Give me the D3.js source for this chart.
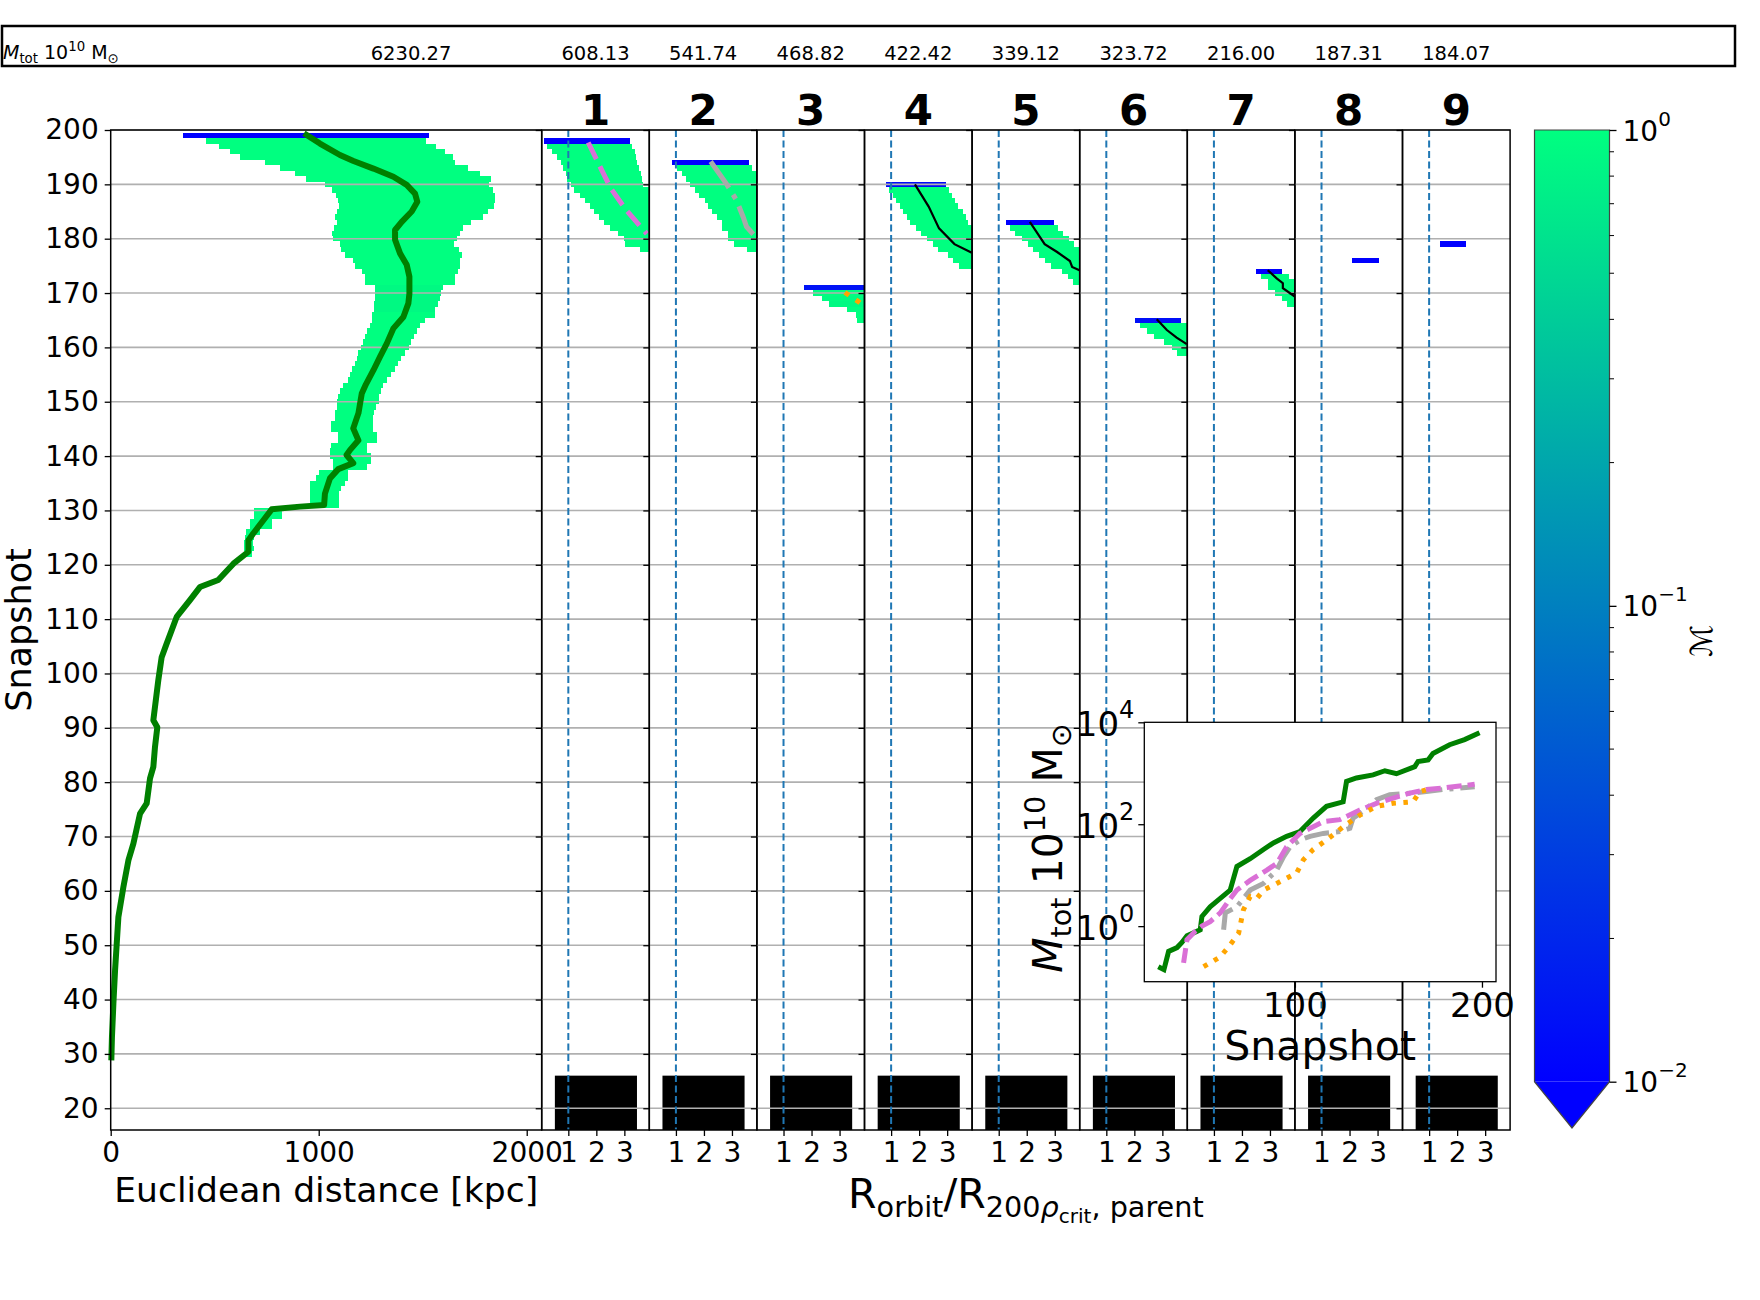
<!DOCTYPE html>
<html>
<head>
<meta charset="utf-8">
<script src="https://cdn.jsdelivr.net/npm/d3@7"></script>
<style>
  body { margin: 0; background: #fff; }
  text { font-family: "DejaVu Sans", sans-serif; }
</style>
</head>
<body>
<div id="chart"></div>
<script>
const width = 1760;
const height = 1300;

// ---- values ----
const snapTicks = d3.range(20, 201, 10);
const distTicks = [0, 1000, 2000];
const radiusTicks = [1, 2, 3];
const insetSnapTicks = [100, 200];
const insetMassTicks = [1, 100, 10000];
const cbMajor = [1, 0.1, 0.01];
const cbMinor = [0.02, 0.03, 0.04, 0.05, 0.06, 0.07, 0.08, 0.09, 0.2, 0.3, 0.4, 0.5, 0.6, 0.7, 0.8, 0.9];
const panelNames = ["1", "2", "3", "4", "5", "6", "7", "8", "9"];
const headerMass = ["6230.27", "608.13", "541.74", "468.82", "422.42", "339.12", "323.72", "216.00", "187.31", "184.07"];

// [snapshot, lo kpc, hi kpc, M]
const mainBand = [
  [199, 347, 1530, 0.01], [198, 458, 1514, 1], [197, 521, 1562, 1], [196, 574, 1607, 1],
  [195, 622, 1646, 1], [194, 742, 1655, 1], [193, 814, 1716, 1], [192, 886, 1776, 1],
  [191, 939, 1827, 1], [190, 1030, 1819, 1], [189, 1064, 1836, 1], [188, 1083, 1849, 1],
  [187, 1093, 1849, 1], [186, 1096, 1843, 1], [185, 1090, 1816, 1], [184, 1078, 1788, 1],
  [183, 1086, 1731, 1], [182, 1074, 1692, 1], [181, 1066, 1678, 1], [180, 1069, 1663, 1],
  [179, 1102, 1649, 1], [178, 1106, 1673, 1], [177, 1126, 1687, 1], [176, 1166, 1679, 1],
  [175, 1176, 1678, 1], [174, 1208, 1670, 1], [173, 1223, 1655, 1], [172, 1223, 1654, 1],
  [171, 1272, 1596, 0.9], [170, 1272, 1590, 0.9], [169, 1271, 1583, 0.9], [168, 1266, 1574, 0.9],
  [167, 1266, 1557, 0.9], [166, 1256, 1557, 1], [165, 1256, 1511, 1], [164, 1247, 1487, 1],
  [163, 1234, 1471, 1], [162, 1223, 1457, 1], [161, 1211, 1442, 1], [160, 1203, 1434, 1],
  [159, 1191, 1415, 1], [158, 1183, 1396, 1], [157, 1176, 1381, 1], [156, 1162, 1367, 1],
  [155, 1150, 1346, 1], [154, 1142, 1327, 1], [153, 1118, 1308, 1], [152, 1102, 1298, 1],
  [151, 1094, 1292, 1], [150, 1090, 1288, 1], [149, 1090, 1275, 1], [148, 1078, 1266, 1],
  [147, 1078, 1259, 1], [146, 1059, 1259, 1], [145, 1059, 1259, 1], [144, 1094, 1282, 1],
  [143, 1094, 1282, 1], [142, 1058, 1231, 1], [141, 1054, 1231, 1], [140, 1054, 1250, 1],
  [139, 1070, 1250, 1], [138, 1070, 1231, 1], [137, 1001, 1142, 1], [136, 987, 1142, 1],
  [135, 958, 1126, 1], [134, 958, 1106, 1], [133, 958, 1098, 1], [132, 958, 1098, 1],
  [131, 958, 1098, 1], [130, 691, 822, 1], [129, 691, 822, 1], [128, 670, 774, 1],
  [127, 670, 774, 1], [126, 651, 718, 1], [125, 647, 689, 1], [124, 643, 686, 1],
  [123, 643, 689, 1], [122, 647, 678, 1]
];

// [kpc, snapshot]
const mainTrack = [
  [929, 199.4], [1006, 197.5], [1102, 195.4], [1167, 194.3], [1263, 192.9], [1359, 191.4],
  [1423, 189.9], [1463, 188.3], [1474, 186.8], [1447, 185], [1399, 183.1], [1367, 181.6],
  [1367, 179.8], [1391, 177.3], [1423, 175.2], [1436, 173], [1436, 169.9], [1431, 168.1],
  [1407, 165.6], [1359, 163.5], [1327, 160.7], [1295, 158.3], [1263, 155.8], [1227, 153.2],
  [1207, 151.5], [1191, 147.9], [1166, 145.1], [1191, 142.9], [1150, 141.1], [1134, 140.2],
  [1166, 138.7], [1094, 137.6], [1054, 135.9], [1030, 133.1], [1026, 131], [910, 130.7],
  [774, 130.2], [734, 128.2], [686, 125.8], [662, 124.5], [662, 122.4], [590, 120.2],
  [517, 117.2], [429, 115.9], [381, 113.5], [317, 110.4], [269, 105.5], [245, 103],
  [229, 98.8], [205, 91.4], [224, 90.1], [213, 86.5], [205, 82.8], [189, 80.7],
  [173, 76.1], [141, 74.2], [109, 68.7], [85, 65.6], [61, 60.7], [37, 55.2],
  [29, 50.3], [21, 45.4], [13, 39.3], [6, 33.1], [3, 28.8]
];

// per subhalo: [snapshot, lo R/R200, hi R/R200, M]
const band1 = [[198, 0.14, 3.21, 0.01], [197, 0.24, 3.29, 1], [196, 0.42, 3.37, 1], [195, 0.60, 3.41, 1],
  [194, 0.75, 3.46, 1], [193, 0.82, 3.52, 1], [192, 0.91, 3.58, 1], [191, 0.97, 3.64, 1],
  [190, 1.10, 3.68, 1], [189, 1.22, 4.5, 1], [188, 1.40, 4.5, 1], [187, 1.61, 4.5, 1],
  [186, 1.77, 4.5, 1], [185, 1.93, 4.5, 1], [184, 2.10, 4.5, 1], [183, 2.26, 4.5, 1],
  [182, 2.49, 4.5, 1], [181, 2.76, 4.5, 1], [180, 3.00, 4.5, 1], [179, 3.04, 4.5, 1], [178, 3.56, 4.5, 1]];
const band2 = [[194, 0.86, 3.61, 0.01], [193, 1.03, 3.71, 1], [192, 1.21, 4.5, 1], [191, 1.37, 4.5, 1],
  [190, 1.52, 4.5, 1], [189, 1.68, 4.5, 1], [188, 1.83, 4.5, 1], [187, 2.02, 4.5, 1],
  [186, 2.14, 4.5, 1], [185, 2.30, 4.5, 1], [184, 2.48, 4.5, 1], [183, 2.64, 4.5, 1],
  [182, 2.66, 4.5, 1], [181, 2.85, 4.5, 1], [180, 2.87, 4.5, 1], [179, 3.07, 4.5, 1], [178, 3.52, 4.5, 1]];
const band3 = [[171, 1.74, 4.5, 0.014], [170, 2.06, 4.5, 1], [169, 2.39, 4.5, 0.95], [168, 2.64, 4.5, 0.9],
  [167, 3.25, 4.5, 1], [166, 3.58, 4.5, 1], [165, 3.62, 4.5, 1]];
const band4 = [[190, 0.82, 2.95, 0.012], [189, 0.94, 3.07, 1], [188, 1.06, 3.19, 1], [187, 1.18, 3.28, 1],
  [186, 1.30, 3.40, 1], [185, 1.42, 3.56, 1], [184, 1.55, 3.68, 1], [183, 1.67, 3.74, 1],
  [182, 1.88, 4.5, 1], [181, 2.07, 4.5, 1], [180, 2.28, 4.5, 1], [179, 2.50, 4.5, 1],
  [178, 2.69, 4.5, 1], [177, 3.02, 4.5, 1], [176, 3.20, 4.5, 1], [175, 3.42, 4.5, 1]];
const band5 = [[183, 1.26, 2.98, 0.01], [182, 1.41, 3.13, 1], [181, 1.59, 3.31, 1], [180, 1.84, 3.50, 1],
  [179, 2.03, 3.68, 1], [178, 2.21, 4.5, 1], [177, 2.42, 4.5, 1], [176, 2.64, 4.5, 1],
  [175, 2.88, 4.5, 1], [174, 3.25, 4.5, 1], [173, 3.48, 4.5, 1], [172, 3.66, 4.5, 1]];
const band6 = [[165, 2.02, 3.66, 0.013], [164, 2.20, 4.5, 1], [163, 2.46, 4.5, 1], [162, 2.71, 4.5, 1],
  [161, 3.06, 4.5, 1], [160, 3.34, 4.5, 1], [159, 3.54, 4.5, 1]];
const band7 = [[174, 2.50, 3.42, 0.01], [173, 2.68, 3.68, 1], [172, 2.94, 4.5, 1], [171, 2.94, 4.5, 1],
  [170, 3.18, 4.5, 1], [169, 3.42, 4.5, 1], [168, 3.62, 4.5, 1]];
const band8 = [[176, 2.09, 3.05, 0.01]];
const band9 = [[179, 1.39, 2.32, 0.01]];
const panelBands = [band1, band2, band3, band4, band5, band6, band7, band8, band9];

// [R/R200, snapshot]
const track1 = [[1.71, 197.7], [2.51, 189.3], [3.06, 185.3], [3.8, 180.9]];
const track2 = [[2.24, 194.2], [2.79, 190.2], [3.16, 187.1], [3.4, 184], [3.52, 182.2], [3.83, 180.4]];
const track3 = [[3.19, 170.1], [3.62, 168.6], [3.9, 167.6]];
const track4 = [[1.85, 190], [2.34, 185.9], [2.71, 181.9], [3.26, 179], [3.88, 177.4]];
const track5 = [[2.11, 183.1], [2.64, 179], [3.07, 177.6], [3.54, 175.9], [3.62, 174.8], [3.88, 174.2]];
const track6 = [[2.8, 165.2], [3.16, 163.2], [3.51, 161.8], [3.87, 160.6]];
const track7 = [[2.92, 174.2], [3.24, 172.7], [3.46, 171.8], [3.46, 170.9], [3.9, 169.3]];
const panelTracks = [track1, track2, track3, track4, track5, track6, track7, [], []];

// black block at the bottom of every panel: R/R200 span and snapshot span
const blockSpan = [0.52, 3.45];
const blockSnaps = [16, 26];

// inset: [snapshot, M_tot 1e10 Msun]
const massHost = [[27, 0.16], [30, 0.14], [32.5, 0.32], [37, 0.38], [39.6, 0.48], [42.3, 0.65],
  [47.6, 0.79], [49.4, 0.85], [50.3, 1.55], [54.7, 2.4], [60.1, 3.5], [65.4, 5.1], [69, 14.8],
  [76.1, 21], [83.2, 32], [88.5, 43], [95.6, 58], [102.7, 72], [109.8, 132], [116.9, 224],
  [125.8, 275], [127.6, 690], [132.9, 810], [141.8, 930], [148.1, 1120], [154.3, 980],
  [164.1, 1350], [165.8, 1700], [171.2, 1820], [173.8, 2450], [182.7, 3630], [190.7, 4570], [198.7, 6230]];
const massSub1 = [[40.5, 0.19], [42.3, 0.54], [46.7, 0.79], [50.3, 1.0], [54.7, 1.23], [60.1, 1.82],
  [64.5, 3.1], [69, 5.1], [76.1, 7.9], [85, 12.6], [90.3, 17], [95.6, 36], [102.7, 66], [109.8, 89],
  [115.2, 112], [124, 123], [134.7, 190], [143.6, 257], [152.5, 324], [161.4, 407], [170.3, 479],
  [179.2, 513], [196.1, 608]];
const massSub2 = [[61.9, 0.85], [62.8, 1.82], [69, 2.4], [76.1, 5.1], [83.2, 6.9], [90.3, 12.6],
  [93.9, 23], [97.4, 36], [102.7, 49], [108.1, 58], [115.2, 66], [124, 72], [129.4, 83], [131.1, 132],
  [137.4, 190], [143.6, 302], [150.7, 380], [161.4, 407], [170.3, 437], [179.2, 479], [196.1, 541]];
const massSub3 = [[51.2, 0.16], [60.1, 0.25], [65.4, 0.43], [69.9, 0.72], [72.5, 2.1], [76.1, 3.8],
  [79.7, 3.5], [83.2, 5.1], [90.3, 6.9], [100.9, 11], [104.5, 20], [109.8, 32], [116.9, 49],
  [120.5, 62], [125.8, 89], [134.7, 151], [143.6, 224], [152.5, 257], [163.2, 275], [166.8, 437], [170, 469]];

// ---- layout ----
const plotTop = 130, plotBottom = 1130;
const mainLeft = 110.7, mainRight = 541.7;
const panelWidth = 107.6;
const panelLeft = i => mainRight + i * panelWidth;
const gridColor = "#b0b0b0";
const tickFont = 28;
const intFmt = d3.format("d");

const svg = d3.select("#chart").append("svg")
    .attr("width", width)
    .attr("height", height);

const winter = t => d3.rgb(0, 255 * t, 255 * (1 - 0.5 * t)).toString();
const colorOf = v => winter(Math.max(0, Math.min(1, (Math.log10(v) + 2) / 2)));

const y = d3.scaleLinear().domain([16, 200]).range([plotBottom, plotTop]);
const xDist = d3.scaleLinear().domain([0, 2072]).range([mainLeft, mainRight]);

function styleAxis(g, size) {
    g.select(".domain").remove();
    g.selectAll(".tick line").attr("stroke", "#000").attr("stroke-width", 1.3);
    g.selectAll(".tick text")
        .attr("font-size", size)
        .attr("font-family", "DejaVu Sans")
        .attr("fill", "#000");
}

// rich text with sub / superscripts; parts: [text, offset(em), scale, italic]
function rich(textSel, parts, fs) {
    let cur = 0;
    parts.forEach(([t, off, sc, it]) => {
        const target = off * fs;
        textSel.append("tspan")
            .attr("dy", (target - cur).toFixed(2))
            .attr("font-size", fs * (sc || 1))
            .attr("font-style", it ? "italic" : null)
            .text(t);
        cur = target;
    });
}

function drawCells(g, rows, x) {
    g.selectAll("rect.cell")
        .data(rows)
        .join("rect")
        .attr("class", "cell")
        .attr("x", d => x(d[1]))
        .attr("width", d => x(d[2]) - x(d[1]))
        .attr("y", d => y(d[0] + 0.5))
        .attr("height", d => y(d[0] - 0.5) - y(d[0] + 0.5))
        .attr("fill", d => colorOf(d[3]))
        .attr("shape-rendering", "crispEdges");
}

function drawGrid(g, x0, x1) {
    g.append("g").selectAll("line")
        .data(snapTicks)
        .join("line")
        .attr("x1", x0).attr("x2", x1)
        .attr("y1", d => y(d)).attr("y2", d => y(d))
        .attr("stroke", gridColor)
        .attr("stroke-width", 1.6);
}

// ---- main panel ----
const defs = svg.append("defs");
defs.append("clipPath").attr("id", "clip-main").append("rect")
    .attr("x", mainLeft).attr("y", plotTop)
    .attr("width", mainRight - mainLeft).attr("height", plotBottom - plotTop);

const main = svg.append("g");
drawCells(main.append("g").attr("clip-path", "url(#clip-main)"), mainBand, xDist);
drawGrid(main, mainLeft, mainRight);

main.append("path")
    .datum(mainTrack)
    .attr("d", d3.line().x(d => xDist(d[0])).y(d => y(d[1])))
    .attr("fill", "none")
    .attr("stroke", "#008000")
    .attr("stroke-width", 6)
    .attr("stroke-linejoin", "round");

main.append("rect")
    .attr("x", mainLeft).attr("y", plotTop)
    .attr("width", mainRight - mainLeft).attr("height", plotBottom - plotTop)
    .attr("fill", "none").attr("stroke", "#000").attr("stroke-width", 1.5);

main.append("g")
    .attr("transform", `translate(${mainLeft},0)`)
    .call(d3.axisLeft(y).tickValues(snapTicks).tickFormat(intFmt).tickSize(6).tickPadding(6))
    .call(g => styleAxis(g, tickFont));

main.append("g")
    .attr("transform", `translate(0,${plotBottom})`)
    .call(d3.axisBottom(xDist).tickValues(distTicks).tickFormat(intFmt).tickSize(6).tickPadding(6))
    .call(g => styleAxis(g, tickFont));

// ---- subhalo panels ----
const trackStyles = [
    { color: "orchid", w: 5, dash: "18.5,8" },
    { color: "darkgray", w: 5, dash: "32,8,5,8" },
    { color: "orange", w: 5, dash: "5,8.25" },
    { color: "#000", w: 2.2, dash: null },
    { color: "#000", w: 2.2, dash: null },
    { color: "#000", w: 2.2, dash: null },
    { color: "#000", w: 2.2, dash: null },
    null, null
];

panelNames.forEach((name, i) => {
    const left = panelLeft(i);
    const x = d3.scaleLinear().domain([0.05, 3.89]).range([left, left + panelWidth]);
    const id = "clip-p" + i;
    defs.append("clipPath").attr("id", id).append("rect")
        .attr("x", left).attr("y", plotTop)
        .attr("width", panelWidth).attr("height", plotBottom - plotTop);

    const g = svg.append("g");
    const body = g.append("g").attr("clip-path", `url(#${id})`);
    drawCells(body, panelBands[i], x);

    body.append("rect")
        .attr("x", x(blockSpan[0]))
        .attr("width", x(blockSpan[1]) - x(blockSpan[0]))
        .attr("y", y(blockSnaps[1]))
        .attr("height", y(blockSnaps[0]) - y(blockSnaps[1]))
        .attr("fill", "#000");

    drawGrid(g, left, left + panelWidth);

    g.append("line")
        .attr("x1", x(1)).attr("x2", x(1))
        .attr("y1", plotTop).attr("y2", plotBottom)
        .attr("stroke", "#1f77b4")
        .attr("stroke-width", 2)
        .attr("stroke-dasharray", "7,3.5");

    const st = trackStyles[i];
    if (st && panelTracks[i].length) {
        g.append("g").attr("clip-path", `url(#${id})`)
            .append("path")
            .datum(panelTracks[i])
            .attr("d", d3.line().x(d => x(d[0])).y(d => y(d[1])))
            .attr("fill", "none")
            .attr("stroke", st.color)
            .attr("stroke-width", st.w)
            .attr("stroke-dasharray", st.dash);
    }

    g.append("rect")
        .attr("x", left).attr("y", plotTop)
        .attr("width", panelWidth).attr("height", plotBottom - plotTop)
        .attr("fill", "none").attr("stroke", "#000").attr("stroke-width", 1.5);

    g.append("g")
        .attr("transform", `translate(${left},0)`)
        .call(d3.axisLeft(y).tickValues(snapTicks).tickSize(6).tickFormat(""))
        .call(gg => styleAxis(gg, tickFont));

    g.append("g")
        .attr("transform", `translate(0,${plotBottom})`)
        .call(d3.axisBottom(x).tickValues(radiusTicks).tickFormat(intFmt).tickSize(6).tickPadding(6))
        .call(gg => styleAxis(gg, tickFont));

    g.append("text")
        .attr("x", left + panelWidth / 2)
        .attr("y", 125)
        .attr("text-anchor", "middle")
        .attr("font-size", 42)
        .attr("font-weight", "bold")
        .text(name);
});

// ---- axis titles ----
svg.append("text")
    .attr("transform", `translate(31,${(plotTop + plotBottom) / 2}) rotate(-90)`)
    .attr("text-anchor", "middle")
    .attr("font-size", 35)
    .text("Snapshot");

svg.append("text")
    .attr("x", (mainLeft + mainRight) / 2)
    .attr("y", 1202)
    .attr("text-anchor", "middle")
    .attr("font-size", 34.5)
    .text("Euclidean distance [kpc]");

rich(svg.append("text")
    .attr("x", (panelLeft(0) + panelLeft(9)) / 2)
    .attr("y", 1208)
    .attr("text-anchor", "middle"),
    [["R", 0], ["orbit", 0.22, 0.7], ["/R", 0], ["200", 0.22, 0.7], ["ρ", 0.22, 0.7, true],
     ["crit", 0.37, 0.49], [", parent", 0.22, 0.7]], 41);

// ---- inset: mass history ----
const inL = 1144.3, inR = 1496, inT = 722.3, inB = 981.7;
const insetX = d3.scaleLinear().domain([19.5, 207.5]).range([inL, inR]);
const insetY = d3.scaleLog().domain([Math.pow(10, -1.09), 10000]).range([inB, inT]);

const inset = svg.append("g");
inset.append("rect")
    .attr("x", inL).attr("y", inT)
    .attr("width", inR - inL).attr("height", inB - inT)
    .attr("fill", "#fff");

const massLine = d3.line().x(d => insetX(d[0])).y(d => insetY(d[1]));
[
    { data: massHost, color: "#008000", dash: null },
    { data: massSub2, color: "darkgray", dash: "25,7,4,7" },
    { data: massSub1, color: "orchid", dash: "15,6" },
    { data: massSub3, color: "orange", dash: "4.5,7.5" }
].forEach(s => {
    inset.append("path")
        .datum(s.data)
        .attr("d", massLine)
        .attr("fill", "none")
        .attr("stroke", s.color)
        .attr("stroke-width", 5)
        .attr("stroke-dasharray", s.dash);
});

inset.append("rect")
    .attr("x", inL).attr("y", inT)
    .attr("width", inR - inL).attr("height", inB - inT)
    .attr("fill", "none").attr("stroke", "#000").attr("stroke-width", 1.3);

inset.append("g")
    .attr("transform", `translate(0,${inB})`)
    .call(d3.axisBottom(insetX).tickValues(insetSnapTicks).tickFormat(intFmt).tickSize(6).tickPadding(5))
    .call(g => styleAxis(g, 34));

inset.append("g")
    .attr("transform", `translate(${inL},0)`)
    .call(d3.axisLeft(insetY).tickValues(insetMassTicks).tickSize(6).tickPadding(4))
    .call(g => styleAxis(g, 34))
    .call(g => g.selectAll(".tick text").each(function (d) {
        const t = d3.select(this).attr("dy", "0.4em").text(null);
        t.append("tspan").text("10");
        t.append("tspan").attr("dy", "-0.75em").attr("font-size", 24).text(Math.round(Math.log10(d)));
    }));

inset.append("text")
    .attr("x", (inL + inR) / 2)
    .attr("y", 1060)
    .attr("text-anchor", "middle")
    .attr("font-size", 41)
    .text("Snapshot");

rich(inset.append("text")
    .attr("transform", `translate(1062,848) rotate(-90)`)
    .attr("text-anchor", "middle"),
    [["M", 0, 1, true], ["tot", 0.22, 0.7], [" 10", 0], ["10", -0.42, 0.7], [" M", 0], ["⊙", 0.22, 0.7]], 41);

// ---- colour bar ----
const cbL = 1534.5, cbR = 1609.5, cbT = 130, cbB = 1081.7, cbTip = 1128;
const cbScale = d3.scaleLog().domain([0.01, 1]).range([cbB, cbT]);

const grad = defs.append("linearGradient")
    .attr("id", "winter")
    .attr("x1", 0).attr("y1", 1).attr("x2", 0).attr("y2", 0);
d3.range(0, 1.0001, 0.1).forEach(t => {
    grad.append("stop").attr("offset", t).attr("stop-color", winter(t));
});

svg.append("rect")
    .attr("x", cbL).attr("y", cbT)
    .attr("width", cbR - cbL).attr("height", cbB - cbT)
    .attr("fill", "url(#winter)");
svg.append("path")
    .attr("d", `M${cbL},${cbB}L${(cbL + cbR) / 2},${cbTip}L${cbR},${cbB}Z`)
    .attr("fill", winter(0));
svg.append("path")
    .attr("d", `M${cbL},${cbT}L${cbR},${cbT}L${cbR},${cbB}L${(cbL + cbR) / 2},${cbTip}L${cbL},${cbB}Z`)
    .attr("fill", "none").attr("stroke", "#444").attr("stroke-width", 1.2);

svg.append("g").selectAll("line")
    .data(cbMinor)
    .join("line")
    .attr("x1", cbR).attr("x2", cbR + 4.5)
    .attr("y1", d => cbScale(d)).attr("y2", d => cbScale(d))
    .attr("stroke", "#000").attr("stroke-width", 1);

svg.append("g")
    .attr("transform", `translate(${cbR},0)`)
    .call(d3.axisRight(cbScale).tickValues(cbMajor).tickSize(7).tickPadding(6))
    .call(g => styleAxis(g, 28))
    .call(g => g.selectAll(".tick text").each(function (d) {
        const e = Math.round(Math.log10(d));
        const t = d3.select(this).attr("dy", "0.36em").text(null);
        t.append("tspan").text("10");
        t.append("tspan").attr("dy", "-0.75em").attr("font-size", 20)
            .text(e === 0 ? "0" : "\u2212" + Math.abs(e));
    }));

svg.append("text")
    .attr("transform", `translate(1712,${(cbT + cbB) / 2 + 35}) rotate(-90)`)
    .attr("text-anchor", "middle")
    .attr("font-size", 30)
    .text("ℳ");

// ---- header row with total masses ----
svg.append("rect")
    .attr("x", 2).attr("y", 26)
    .attr("width", 1733).attr("height", 40)
    .attr("fill", "none").attr("stroke", "#000").attr("stroke-width", 2.5);

rich(svg.append("text").attr("x", 3).attr("y", 59),
    [["M", 0, 1, true], ["tot", 0.22, 0.7], [" 10", 0], ["10", -0.42, 0.7], [" M", 0], ["⊙", 0.22, 0.7]], 19);

svg.append("g").selectAll("text")
    .data(headerMass)
    .join("text")
    .attr("x", (d, i) => i === 0 ? 411 : panelLeft(i - 1) + panelWidth / 2)
    .attr("y", 60)
    .attr("text-anchor", "middle")
    .attr("font-size", 19.5)
    .text(d => d);
</script>
</body>
</html>
